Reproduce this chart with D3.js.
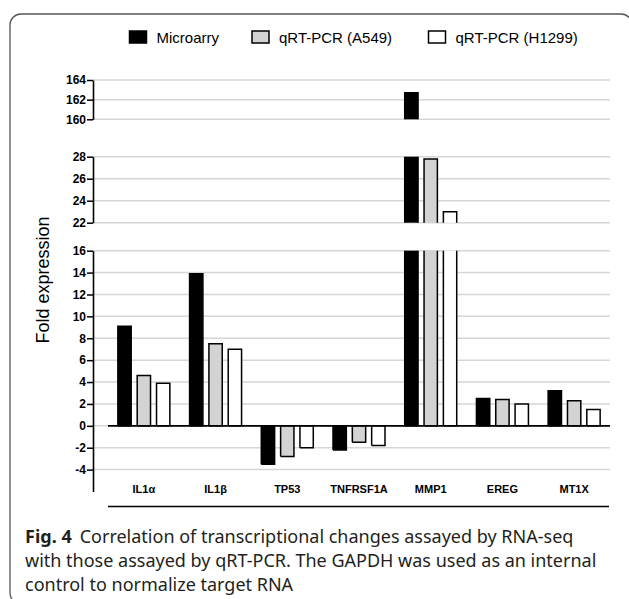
<!DOCTYPE html>
<html>
<head>
<meta charset="utf-8">
<script src="https://cdn.jsdelivr.net/npm/d3@7"></script>
<style>
  body { margin: 0; background: #fff; }
  svg { display: block; }
</style>
</head>
<body>
<svg width="629" height="599"></svg>
<script>
// Chart values
const categories = ["IL1α", "IL1β", "TP53", "TNFRSF1A", "MMP1", "EREG", "MT1X"];
const seriesNames = ["Microarry", "qRT-PCR (A549)", "qRT-PCR (H1299)"];
const microarray = [9.1, 13.9, -3.5, -2.2, 162.7, 2.5, 3.2];
const a549 = [4.6, 7.5, -2.8, -1.5, 27.8, 2.4, 2.3];
const h1299 = [3.9, 7.0, -2.0, -1.8, 23.0, 2.0, 1.5];
const lowTicks = [-4, -2, 0, 2, 4, 6, 8, 10, 12, 14, 16];
const midTicks = [22, 24, 26, 28];
const topTicks = [160, 162, 164];
const captionLines = [
  "Correlation of transcriptional changes assayed by RNA-seq",
  "with those assayed by qRT-PCR. The GAPDH was used as an internal",
  "control to normalize target RNA"
];

const seriesValues = [microarray, a549, h1299];
const fills = ["#000000", "#d3d3d3", "#ffffff"];

const svg = d3.select("svg");

// Outer frame
svg.append("rect")
  .attr("x", 10).attr("y", 14)
  .attr("width", 622).attr("height", 590)
  .attr("rx", 11)
  .attr("fill", "none")
  .attr("stroke", "#555")
  .attr("stroke-width", 1.3);

// Three broken y segments
const segments = [
  { y: d3.scaleLinear().domain([-6, 16]).range([491.5, 250.7]), ticks: lowTicks },
  { y: d3.scaleLinear().domain([22, 28]).range([222.7, 156.7]), ticks: midTicks },
  { y: d3.scaleLinear().domain([160, 164]).range([119.3, 80]), ticks: topTicks }
];

const x0 = d3.scaleBand().domain(categories).range([108, 610]);
const x1 = d3.scaleBand().domain(seriesNames)
  .range([0, x0.bandwidth()])
  .paddingInner(0.31)
  .paddingOuter(0.51);

const axisX = 93;

// Gridlines
segments.forEach(seg => {
  svg.append("g").selectAll("line")
    .data(seg.ticks)
    .enter().append("line")
    .attr("x1", axisX).attr("x2", 610)
    .attr("y1", d => seg.y(d)).attr("y2", d => seg.y(d))
    .attr("stroke", "#d6d6d6")
    .attr("stroke-width", 1.5);
});

// Bars, clipped to each segment
segments.forEach(seg => {
  const [d0, d1] = seg.y.domain();
  const g = svg.append("g");
  categories.forEach((cat, ci) => {
    seriesNames.forEach((name, si) => {
      const v = seriesValues[si][ci];
      const base = Math.min(0, v), top = Math.max(0, v);
      const lo = Math.max(base, d0), hi = Math.min(top, d1);
      if (hi <= lo) return;
      const left = x0(cat) + x1(name);
      const right = left + x1.bandwidth();
      const yLo = seg.y(lo), yHi = seg.y(hi);
      g.append("rect")
        .attr("x", left).attr("y", yHi)
        .attr("width", right - left).attr("height", yLo - yHi)
        .attr("fill", fills[si]);
      const p = d3.path();
      p.moveTo(left, yLo);
      p.lineTo(left, yHi);
      if (hi === top) p.lineTo(right, yHi); else p.moveTo(right, yHi);
      p.lineTo(right, yLo);
      if (lo === base) p.lineTo(left, yLo);
      g.append("path")
        .attr("d", p.toString())
        .attr("fill", "none")
        .attr("stroke", "#000")
        .attr("stroke-width", 1.5);
    });
  });
});

// Zero line
svg.append("line")
  .attr("x1", 108).attr("x2", 610)
  .attr("y1", segments[0].y(0)).attr("y2", segments[0].y(0))
  .attr("stroke", "#000").attr("stroke-width", 1.6);

// Y axes
segments.forEach(seg => {
  const ax = svg.append("g")
    .attr("transform", `translate(${axisX},0)`)
    .call(d3.axisLeft(seg.y)
      .tickValues(seg.ticks)
      .tickFormat(d => String(d))
      .tickSize(6).tickSizeOuter(0).tickPadding(1));
  ax.select(".domain").attr("stroke", "#000").attr("stroke-width", 1.6);
  ax.selectAll(".tick line").attr("stroke", "#000").attr("stroke-width", 1.5);
  ax.selectAll(".tick text")
    .attr("fill", "#000")
    .style("font-family", "Liberation Sans, Arial, sans-serif")
    .style("font-weight", "bold")
    .style("font-size", "12px");
});

// Category labels
svg.append("g").selectAll("text")
  .data(categories)
  .enter().append("text")
  .attr("x", d => x0(d) + x0.bandwidth() / 2)
  .attr("y", 493)
  .attr("text-anchor", "middle")
  .style("font-family", "Liberation Sans, Arial, sans-serif")
  .style("font-weight", "bold")
  .style("font-size", "11px")
  .text(d => d);

// Bottom rule
svg.append("line")
  .attr("x1", 108).attr("x2", 609)
  .attr("y1", 506.5).attr("y2", 506.5)
  .attr("stroke", "#000").attr("stroke-width", 1.6);

// Y title
svg.append("text")
  .attr("transform", "translate(49,280) rotate(-90)")
  .attr("text-anchor", "middle")
  .style("font-family", "Liberation Sans, Arial, sans-serif")
  .style("font-size", "18px")
  .text("Fold expression");

// Legend
const legendX = [129.5, 252, 428.5];
const legend = svg.append("g").selectAll("g")
  .data(seriesNames)
  .enter().append("g")
  .attr("transform", (d, i) => `translate(${legendX[i]},31)`);
legend.append("rect")
  .attr("width", 17).attr("height", 12)
  .attr("fill", (d, i) => fills[i])
  .attr("stroke", "#000").attr("stroke-width", 1.5);
legend.append("text")
  .attr("x", 27).attr("y", 11.5)
  .style("font-family", "Liberation Sans, Arial, sans-serif")
  .style("font-size", "15px")
  .text(d => d);

// Caption
const cap = svg.append("g")
  .style("font-family", "'Noto Sans', 'Open Sans', sans-serif")
  .style("font-size", "18px")
  .attr("fill", "#231f20");
const first = cap.append("text").attr("x", 25).attr("y", 543);
first.append("tspan").style("font-weight", "bold").text("Fig. 4");
first.append("tspan").attr("dx", 8).text(captionLines[0]);
cap.append("text").attr("x", 25).attr("y", 567).text(captionLines[1]);
cap.append("text").attr("x", 25).attr("y", 591).text(captionLines[2]);
</script>
</body>
</html>
